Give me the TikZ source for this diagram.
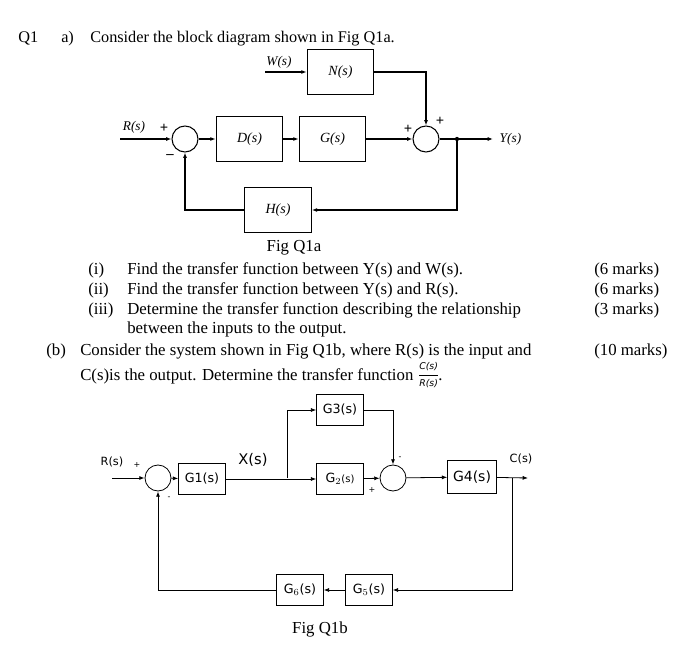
\documentclass[tikz,border=0pt]{standalone}
\usepackage{fontspec}
\setmainfont{Liberation Serif}
\newfontfamily\lblfont{DejaVu Sans}
\usetikzlibrary{arrows.meta}
\begin{document}
\begin{tikzpicture}[x=0.75pt,y=-0.75pt,
  txt/.style={anchor=base west,inner sep=0pt,font=\fontsize{12.6}{14}\selectfont},
  blk/.style={draw,thick,minimum width=50pt,minimum height=34pt,inner sep=0pt,font=\fontsize{10.5}{12}\selectfont\itshape},
  bblk/.style={draw,semithick,minimum width=35pt,minimum height=23pt,inner sep=0pt,font=\fontsize{9.5}{11}\selectfont\lblfont},
  sumj/.style={draw,thick,circle,minimum size=19.5pt,inner sep=0pt},
  sig/.style={inner sep=0pt,font=\fontsize{11}{12}\selectfont\bfseries},
  bsig/.style={inner sep=0pt,font=\fontsize{6}{7}\selectfont\lblfont},
  ln/.style={thick,-{Latex[length=4pt,width=3pt]}},
  bln/.style={semithick,-{Latex[length=4pt,width=3pt]}}]
  \useasboundingbox (0,0) rectangle (700,659);
  % heading
  \node[txt,font=\fontsize{12.2}{14}\selectfont] (q) at (18,43) {Q1};
  \node[txt,font=\fontsize{12.2}{14}\selectfont] (qa) at (61,43) {a)};
  \node[txt,font=\fontsize{12.2}{14}\selectfont] (qtxt) at (90,43) {Consider the block diagram shown in Fig Q1a.};
  % Fig Q1a
  \node[blk] (N) at (340.5,72) {N(s)};
  \node[blk] (D) at (249.5,139) {D(s)};
  \node[blk] (G) at (332.5,139) {G(s)};
  \node[blk] (H) at (278,210) {H(s)};
  \node[sumj] (s1) at (185,139) {};
  \node[sumj] (s2) at (426,139) {};
  \coordinate (rin) at (120,139);
  \coordinate (win) at (265,72);
  \coordinate (yout) at (493,139);
  \coordinate (ybr) at (457,139);
  \node[font=\fontsize{10}{12}\selectfont\itshape] (rlab) at (134,127) {R(s)};
  \node[font=\fontsize{10}{12}\selectfont\itshape] (wlab) at (279,62) {W(s)};
  \node[font=\fontsize{10}{12}\selectfont\itshape,anchor=west] (ylab) at (495,139) {Y(s)};
  \node[sig] (p1) at (164,128) {+};
  \node[sig] (m1) at (170,157) {--};
  \node[sig] (p2) at (408,129) {+};
  \node[sig] (p3) at (440,121) {+};
  \draw[ln] (rin) -- (s1);
  \draw[ln] (s1) -- (D);
  \draw[ln] (D) -- (G);
  \draw[ln] (G) -- (s2);
  \draw[ln] (win) -- (N);
  \draw[ln] (N.east) -| (s2.north);
  \draw[ln] (s2) -- (yout);
  \fill (ybr) circle (1.6pt);
  \draw[ln] (ybr) |- (H.east);
  \draw[ln] (H.west) -| (s1.south);
  % questions
  \node[font=\fontsize{12.6}{14}\selectfont] (figa) at (294,248) {Fig Q1a};
  \node[txt] (i1) at (88,275) {(i)};
  \node[txt] (i2) at (127,275) {Find the transfer function between Y(s) and W(s).};
  \node[txt] (i3) at (594,275) {(6 marks)};
  \node[txt] (ii1) at (88,295) {(ii)};
  \node[txt] (ii2) at (127,295) {Find the transfer function between Y(s) and R(s).};
  \node[txt] (ii3) at (594,295) {(6 marks)};
  \node[txt] (iii1) at (88,315) {(iii)};
  \node[txt] (iii2) at (127,315) {Determine the transfer function describing the relationship};
  \node[txt] (iii3) at (594,315) {(3 marks)};
  \node[txt] (iii4) at (127,334) {between the inputs to the output.};
  \node[txt] (b1) at (46,355) {(b)};
  \node[txt] (b2) at (80,355) {Consider the system shown in Fig Q1b, where R(s) is the input and};
  \node[txt] (b3) at (594,355) {(10 marks)};
  \node[txt] (b4) at (80,380) {C(s)is the output. Determine the transfer function};
  \node[inner sep=0pt,anchor=west,font=\lblfont\itshape\fontsize{7}{8}\selectfont] (fnum) at (419,367) {C(s)};
  \node[inner sep=0pt,anchor=west,font=\lblfont\itshape\fontsize{7}{8}\selectfont] (fden) at (419,384) {R(s)};
  \draw[semithick] (fden.west |- 0,375.5) -- (fden.east |- 0,375.5);
  \node[txt] (dot) at (fden.east |- b4.base) {.};
  % Fig Q1b
  \node[bblk] (G3) at (340,410) {G3(s)};
  \node[bblk] (G2) at (340,479) {G$_2$\fontsize{7.5}{8}\selectfont(s)};
  \node[bblk] (G1) at (202,479) {G1(s)};
  \node[bblk,minimum width=36.5pt,minimum height=25pt,font=\fontsize{10.5}{12}\selectfont\lblfont] (G4) at (472,477) {G4(s)};
  \node[bblk] (G5) at (369,590) {G$_5$(s)};
  \node[bblk] (G6) at (300,590) {G$_6$(s)};
  \node[sumj,semithick] (t1) at (158,478) {};
  \node[sumj,semithick] (t2) at (393,478) {};
  \coordinate (bin) at (112,478);
  \coordinate (xbr) at (287,478);
  \coordinate (cbr) at (512,478);
  \coordinate (cout) at (528,478);
  \node[font=\fontsize{8.5}{10}\selectfont\lblfont] (rlb) at (112,462) {R(s)};
  \node[font=\fontsize{11}{12}\selectfont\lblfont] (xlb) at (253,460) {X(s)};
  \node[font=\fontsize{8.5}{10}\selectfont\lblfont] (clb) at (521,459) {C(s)};
  \node[bsig] (bp1) at (137,465) {+};
  \node[bsig] (bm1) at (169,498) {-};
  \node[bsig] (bm2) at (400,458) {-};
  \node[bsig] (bp2) at (372,490) {+};
  \draw[bln] (bin) -- (t1);
  \draw[bln] (t1) -- (G1);
  \draw[bln] (G1) -- (G2);
  \draw[bln] (xbr) |- (G3.west);
  \draw[bln] (G3.east) -| (t2.north);
  \draw[bln] (G2) -- (t2);
  \draw[bln] (t2) -- (G4);
  \draw[bln] (G4) -- (cout);
  \draw[bln] (cbr) |- (G5.east);
  \draw[bln] (G5) -- (G6);
  \draw[bln] (G6.west) -| (t1.south);
  \node[font=\fontsize{12.6}{14}\selectfont] (figb) at (320,629) {Fig Q1b};
\end{tikzpicture}
\end{document}
